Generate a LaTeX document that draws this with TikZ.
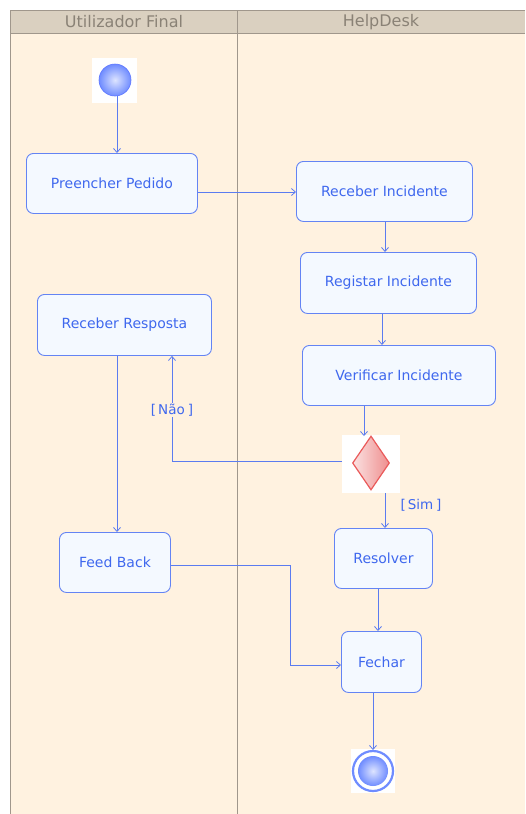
\documentclass[tikz,border=0pt]{standalone}
\usepackage{fontspec}
\setmainfont{DejaVu Sans}
\usetikzlibrary{arrows.meta,shapes.geometric}
\definecolor{lanebg}{HTML}{FFF2E0}
\definecolor{headbg}{HTML}{DAD0C0}
\definecolor{laneline}{HTML}{A0978C}
\definecolor{headtext}{HTML}{8A8276}
\definecolor{boxfill}{HTML}{F4F9FF}
\definecolor{boxline}{HTML}{6484F4}
\definecolor{boxtext}{HTML}{3F68EE}
\definecolor{flow}{HTML}{5B7CF0}
\definecolor{ballin}{HTML}{DDE4FF}
\definecolor{ballout}{HTML}{6F8CFF}
\definecolor{decline}{HTML}{EA5A5A}
\definecolor{decleft}{HTML}{FBE2E2}
\definecolor{decright}{HTML}{EE8E8E}
\tikzset{
  activity/.style={draw=boxline, fill=boxfill, rounded corners=7pt, line width=0.9pt,
    inner sep=0pt, anchor=north west},
  label text/.style={text=boxtext, font=\fontsize{14}{16}\selectfont},
  flowline/.style={draw=flow, line width=0.8pt},
  flowarrow/.style={flowline, -{Straight Barb[length=4pt,width=7pt,line width=0.8pt]}},
  guard/.style={text=boxtext, font=\fontsize{13.5}{15}\selectfont, fill=lanebg, inner sep=1pt},
  lanehead/.style={text=headtext, font=\fontsize{16}{18}\selectfont},
}
\begin{document}
\begin{tikzpicture}[x=1pt,y=-1pt]
\useasboundingbox (0,0) rectangle (525,814);
\fill[white] (0,0) rectangle (525,814);
% swimlanes
\fill[lanebg] (10,33) rectangle (525,814);
\fill[headbg] (10,10) rectangle (525,33);
\draw[laneline, line width=1pt] (525,10) -- (10,10) -- (10,814);
\draw[laneline, line width=1pt] (10,33) -- (525,33);
\draw[laneline, line width=1pt] (237,10) -- (237,814);
\node[lanehead] (laneA) at (124,22) {Utilizador Final};
\node[lanehead] (laneB) at (381,22) {HelpDesk};

% start node
\fill[white] (92,58) rectangle (137,103);
\shade[inner color=ballin, outer color=ballout] (115,80) circle (16);
\draw[ballout!85!blue, line width=0.6pt] (115,80) circle (16);
\coordinate (start) at (117,96);

% activities
\node[activity, minimum width=171pt, minimum height=60pt] (preencher) at (26,153) {};
\node[label text] at (preencher.center) {Preencher Pedido};
\node[activity, minimum width=176pt, minimum height=60pt] (receberI) at (296,161) {};
\node[label text] at (receberI.center) {Receber Incidente};
\node[activity, minimum width=176pt, minimum height=61pt] (registar) at (300,252) {};
\node[label text] at (registar.center) {Registar Incidente};
\node[activity, minimum width=193pt, minimum height=60pt] (verificar) at (302,345) {};
\node[label text] at (verificar.center) {Verificar Incidente};
\node[activity, minimum width=174pt, minimum height=61pt] (receberR) at (37,294) {};
\node[label text] at (receberR.center) {Receber Resposta};
\node[activity, minimum width=111pt, minimum height=60pt] (feedback) at (59,532) {};
\node[label text] at (feedback.center) {Feed Back};
\node[activity, minimum width=98pt, minimum height=60pt] (resolver) at (334,528) {};
\node[label text] at (resolver.center) {Resolver};
\node[activity, minimum width=80pt, minimum height=61pt] (fechar) at (341,631) {};
\node[label text] at (fechar.center) {Fechar};

% decision
\fill[white] (342,435) rectangle (400,493);
\node[diamond, draw=decline, line width=1.2pt, minimum width=37pt, minimum height=54pt,
  inner sep=0pt, left color=decleft, right color=decright] (decide) at (371,463) {};

% end node
\fill[white] (351,749) rectangle (395,793);
\draw[ballout, line width=2.2pt] (373,771) circle (20);
\shade[inner color=ballin, outer color=ballout] (373,771) circle (15);
\coordinate (finish) at (373,750);

% flows
\draw[flowarrow] (start) -- (preencher.north -| start);
\draw[flowarrow] (preencher.east |- 0,192) -- (receberI.west |- 0,192);
\draw[flowarrow] (receberI.south -| 385,0) -- (registar.north -| 385,0);
\draw[flowarrow] (registar.south -| 382,0) -- (verificar.north -| 382,0);
\draw[flowarrow] (verificar.south -| 364,0) -- (364,436);
\draw[flowarrow] (342,461) -| (receberR.south -| 172,0);
\node[guard] (nao) at (172,410) {[\kern2pt Não\kern3pt]};
\draw[flowarrow] (385,493) -- (resolver.north -| 385,0);
\node[guard, fill=none] (sim) at (421,505) {[\kern2pt Sim\kern3pt]};
\draw[flowarrow] (receberR.south -| 117,0) -- (feedback.north -| 117,0);
\draw[flowarrow] (feedback.east |- 0,565) -| (290,665) -- (fechar.west |- 0,665);
\draw[flowarrow] (resolver.south -| 378,0) -- (fechar.north -| 378,0);
\draw[flowarrow] (fechar.south -| 373,0) -- (finish);
\end{tikzpicture}
\end{document}
